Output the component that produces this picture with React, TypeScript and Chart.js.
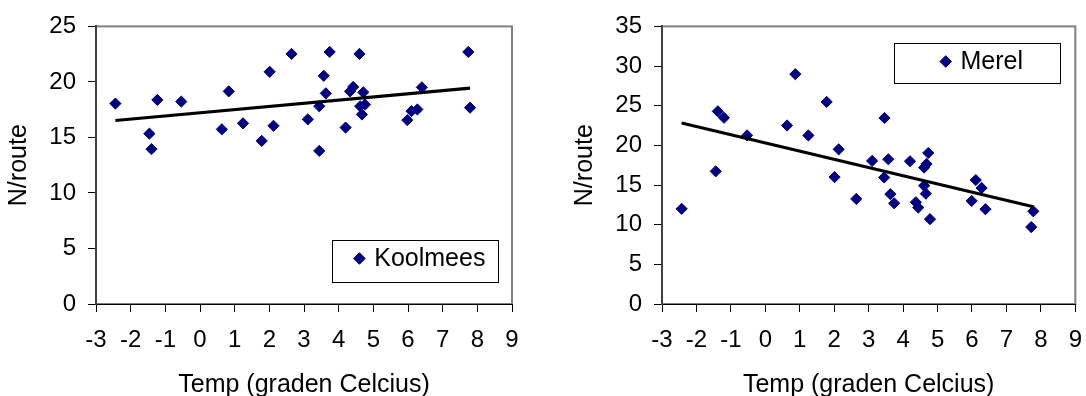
import React, { useEffect, useRef } from "react";
import { Chart, registerables } from "chart.js";

Chart.register(...registerables);

// ---- data ----
const xRange = [-3, 9];
const xStep = 1;
const yStep = 5;
const xTitle = "Temp (graden Celcius)";
const yTitle = "N/route";

const koolmeesLabel = "Koolmees";
const koolmeesYRange = [0, 25];
const koolmeesTemp = [
  -2.44, -1.46, -1.4, -1.23, -0.54, 0.63, 0.83, 1.24, 1.78, 2.01, 2.12, 2.64,
  3.11, 3.44, 3.44, 3.57, 3.63, 3.74, 4.2, 4.33, 4.42, 4.6, 4.71, 4.62, 4.76,
  4.67, 5.98, 6.1, 6.27, 6.4, 7.74, 7.79,
];
const koolmeesN = [
  18.05, 15.34, 13.95, 18.38, 18.23, 15.73, 19.15, 16.27, 14.69, 20.91, 16.05,
  22.52, 16.63, 17.81, 13.79, 20.55, 18.97, 22.7, 15.89, 19.15, 19.55, 22.52,
  19.06, 17.81, 17.96, 17.07, 16.56, 17.37, 17.52, 19.51, 22.7, 17.68,
];

const merelLabel = "Merel";
const merelYRange = [0, 35];
const merelTemp = [
  -2.43, -1.44, -1.38, -1.2, -0.53, 0.63, 0.87, 1.25, 1.78, 2.13, 2.01, 2.64,
  3.1, 3.46, 3.57, 3.45, 3.63, 3.74, 4.2, 4.37, 4.44, 4.73, 4.68, 4.61, 4.61,
  4.66, 4.78, 6.11, 6.28, 5.99, 6.39, 7.78, 7.72,
];
const merelN = [
  12.0, 16.73, 24.29, 23.48, 21.26, 22.51, 28.98, 21.25, 25.48, 19.5, 16.0,
  13.25, 18.04, 23.45, 18.25, 15.95, 13.85, 12.7, 18.0, 12.83, 12.16, 19.04,
  17.66, 17.2, 14.91, 13.91, 10.7, 15.63, 14.63, 13.0, 11.95, 11.69, 9.7,
];

// ---- helpers ----
const FONT = "'Liberation Sans', Arial, Helvetica, sans-serif";
const MARKER = "#000080";
const TICK_SIZE = 24;
const TITLE_SIZE = 25;

function linearFit(xs: number[], ys: number[]) {
  const n = xs.length;
  const mx = xs.reduce((a, b) => a + b, 0) / n;
  const my = ys.reduce((a, b) => a + b, 0) / n;
  let sxy = 0;
  let sxx = 0;
  for (let i = 0; i < n; i++) {
    sxy += (xs[i] - mx) * (ys[i] - my);
    sxx += (xs[i] - mx) * (xs[i] - mx);
  }
  const b = sxy / sxx;
  const a = my - b * mx;
  const x0 = Math.min(...xs);
  const x1 = Math.max(...xs);
  return [
    { x: x0, y: a + b * x0 },
    { x: x1, y: a + b * x1 },
  ];
}

const framePlugin = {
  id: "frame",
  beforeDraw(chart: any) {
    const { ctx, chartArea: a } = chart;
    ctx.save();
    ctx.strokeStyle = "#808080";
    ctx.lineWidth = 2;
    ctx.strokeRect(a.left, a.top, a.right - a.left, a.bottom - a.top);
    ctx.restore();
  },
};

function diamond(ctx: CanvasRenderingContext2D, x: number, y: number, r: number) {
  ctx.beginPath();
  ctx.moveTo(x - r, y);
  ctx.lineTo(x, y - r);
  ctx.lineTo(x + r, y);
  ctx.lineTo(x, y + r);
  ctx.closePath();
  ctx.fill();
  ctx.stroke();
}

const boxLegendPlugin = {
  id: "boxLegend",
  afterDraw(chart: any, _args: any, opts: any) {
    const { ctx, chartArea: a } = chart;
    const ds = chart.data.datasets[opts.datasetIndex];
    const x = Math.round(a.left + opts.dx) + 0.5;
    const y = Math.round(a.top + opts.dy) + 0.5;
    ctx.save();
    ctx.fillStyle = "#fff";
    ctx.fillRect(x, y, opts.w, opts.h);
    ctx.strokeStyle = "#000";
    ctx.lineWidth = 1;
    ctx.strokeRect(x, y, opts.w, opts.h);
    ctx.font = `${opts.fontSize}px ${FONT}`;
    const tw = ctx.measureText(ds.label).width;
    const r = opts.markerRadius;
    const gap = opts.gap;
    const content = 2 * r + gap + tw;
    const startX = x + (opts.w - content) / 2 + opts.shift;
    ctx.fillStyle = MARKER;
    ctx.strokeStyle = MARKER;
    diamond(ctx, startX + r, y + opts.markerY, r);
    ctx.fillStyle = "#000";
    ctx.textBaseline = "alphabetic";
    ctx.textAlign = "left";
    ctx.fillText(ds.label, startX + 2 * r + gap, y + opts.textBaseline);
    ctx.restore();
  },
};

type PanelProps = {
  left: number;
  width: number;
  padRight: number;
  temps: number[];
  counts: number[];
  yRange: number[];
  label: string;
  legend: { dx: number; dy: number; w: number; h: number };
};

function ScatterPanel(props: PanelProps) {
  const ref = useRef<HTMLCanvasElement>(null);
  useEffect(() => {
    if (!ref.current) return;
    const { temps, counts, yRange, label, padRight, legend } = props;
    const chart = new Chart(ref.current, {
      type: "scatter",
      data: {
        datasets: [
          {
            label: "trend",
            data: linearFit(temps, counts),
            showLine: true,
            borderColor: "#000",
            borderWidth: 3.2,
            pointRadius: 0,
            order: 0,
          } as any,
          {
            label,
            data: temps.map((x, i) => ({ x, y: counts[i] })),
            pointStyle: "rectRot",
            pointRadius: 5.6,
            backgroundColor: MARKER,
            borderColor: MARKER,
            borderWidth: 1,
            order: 1,
          } as any,
        ],
      },
      options: {
        responsive: false,
        animation: false,
        devicePixelRatio: 1,
        layout: { padding: { left: 0, top: 24, right: padRight, bottom: 0 } },
        plugins: {
          legend: { display: false },
          tooltip: { enabled: false },
          boxLegend: {
            datasetIndex: 1,
            ...legend,
            fontSize: 25,
            markerRadius: 5.8,
            gap: 9,
            shift: 4,
            markerY: 18,
            textBaseline: 25,
          },
        } as any,
        scales: {
          x: {
            type: "linear",
            min: xRange[0],
            max: xRange[1],
            ticks: {
              stepSize: xStep,
              autoSkip: false,
              maxRotation: 0,
              color: "#000",
              padding: 14,
              font: { family: FONT, size: TICK_SIZE },
            },
            grid: {
              drawOnChartArea: false,
              drawTicks: true,
              tickLength: 8,
              color: "#000",
              lineWidth: 1,
            },
            border: { display: true, color: "#000", width: 1 },
            title: {
              display: true,
              text: xTitle,
              color: "#000",
              font: { family: FONT, size: TITLE_SIZE },
              padding: { top: 0, bottom: 0 },
            },
            afterFit: (s: any) => {
              s.height = 96;
            },
          },
          y: {
            type: "linear",
            min: yRange[0],
            max: yRange[1],
            ticks: {
              stepSize: yStep,
              color: "#000",
              padding: 12,
              font: { family: FONT, size: TICK_SIZE },
            },
            grid: {
              drawOnChartArea: false,
              drawTicks: true,
              tickLength: 8,
              color: "#000",
              lineWidth: 1,
            },
            border: { display: true, color: "#404040", width: 2 },
            title: {
              display: true,
              text: yTitle,
              color: "#000",
              font: { family: FONT, size: TITLE_SIZE },
              padding: { top: 4, bottom: 0 },
            },
            afterFit: (s: any) => {
              s.width = 96;
            },
          },
        },
      },
      plugins: [framePlugin, boxLegendPlugin],
    });
    return () => chart.destroy();
  }, []);
  return (
    <canvas
      ref={ref}
      width={props.width}
      height={400}
      style={{ position: "absolute", left: props.left, top: 0 }}
    />
  );
}

export default function App() {
  return (
    <div
      style={{
        position: "fixed",
        left: 0,
        top: 0,
        width: 1086,
        height: 396,
        overflow: "hidden",
        background: "#fff",
      }}
    >
      <ScatterPanel
        left={0}
        width={540}
        padRight={28}
        temps={koolmeesTemp}
        counts={koolmeesN}
        yRange={koolmeesYRange}
        label={koolmeesLabel}
        legend={{ dx: 236, dy: 214, w: 166, h: 42 }}
      />
      <ScatterPanel
        left={566}
        width={530}
        padRight={18}
        temps={merelTemp}
        counts={merelN}
        yRange={merelYRange}
        label={merelLabel}
        legend={{ dx: 232, dy: 17, w: 166, h: 40 }}
      />
    </div>
  );
}
